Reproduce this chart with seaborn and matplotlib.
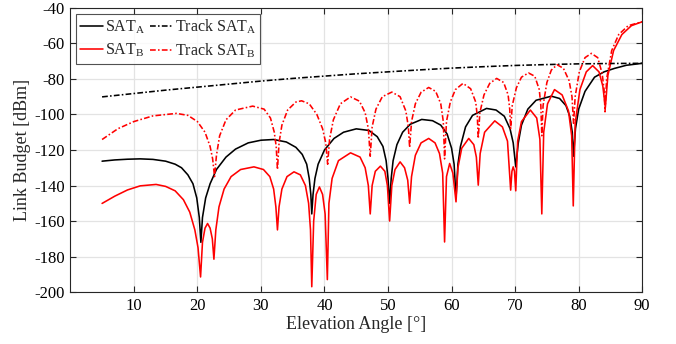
import matplotlib
matplotlib.use("Agg")
import matplotlib.pyplot as plt
import seaborn as sns
import pandas as pd

# Elevation angle [deg] and link budget [dBm] for each trace
sat_a_x = [5, 7, 9, 11, 13, 15, 16.5, 17.5, 18.5, 19.3, 19.9, 20.3, 20.55,
           20.8, 21.3, 22, 23, 24.5, 26, 28, 30, 32, 34, 35.5, 36.5, 37.2, 37.6, 37.85, 38.0,
           38.2, 38.5, 39, 40, 41.5, 43, 45, 47, 48.3, 49.2, 49.7, 50.0, 50.25,
           50.5, 50.8, 51.4, 52.3, 53.5, 55.3, 57, 58.3, 59.3, 60, 60.4, 60.7,
           61, 61.4, 62.2, 63.3, 65.5, 67, 68.3, 69.2, 69.7, 70.1,
           70.5, 71, 72, 73.3, 75.7, 77, 78, 78.6, 79.0, 79.2,
           79.5, 80, 81, 82.5, 84, 85.6, 87.5, 90]
sat_a_y = [-126.3, -125.6, -125.2, -125.0, -125.3, -126.3, -128, -130, -134, -139, -147, -158, -172,
           -158, -147, -139, -131, -124, -119.5, -116, -114.5, -114.1, -115.5, -118.5, -122.5, -128, -136, -145, -156,
           -145, -136, -128, -120, -113.5, -110, -108.1, -109, -112.5, -118, -126, -136, -150,
           -136, -126, -117, -110, -105.5, -102.8, -103.5, -106, -111, -119, -128, -147,
           -128, -118, -107, -100.5, -96.6, -97.5, -101, -108, -116, -129.5,
           -116, -106, -97, -92, -89.7, -91, -95, -101, -110, -123.5,
           -108, -97, -87, -79, -76, -74.1, -72.3, -71.2]

sat_b_x = [5, 7, 9, 11, 13.5, 15, 16.5, 17.8, 18.8, 19.6, 20.1, 20.5,
           20.8, 21.2, 21.6, 22.0, 22.35, 22.6,
           22.9, 23.4, 24.2, 25.3, 26.8, 28.9, 30.4, 31.4, 32.0, 32.35, 32.6,
           32.85, 33.3, 34.1, 35.2, 36.2, 37.0, 37.5, 37.8, 38.0,
           38.3, 38.7, 39.2, 39.7, 40.1, 40.45,
           40.7, 41.2, 42.2, 44.1, 45.6, 46.4, 46.9, 47.2,
           47.5, 48.0, 48.8, 49.5, 49.9, 50.25,
           50.6, 51.1, 51.9, 52.6, 53.1, 53.4,
           53.7, 54.3, 55.2, 56.4, 57.4, 58.1, 58.6, 58.9,
           59.2, 59.7, 60.2, 60.7,
           61.0, 61.6, 62.7, 63.5, 63.9, 64.2,
           64.5, 65.2, 66.8, 68.0, 68.8, 69.3,
           69.5, 69.7, 69.9, 70.1,
           70.4, 71.0, 72.4, 73.4, 73.9, 74.2,
           74.5, 75.1, 76.2, 77.4, 78.4, 78.9, 79.15,
           79.45, 80.2, 81.2, 82.2, 83.2, 83.8, 84.2,
           84.6, 85.5, 86.8, 88.3, 90]
sat_b_y = [-150.1, -146, -142.5, -140.2, -139.4, -140.5, -143, -148, -155, -165, -175, -191.5,
           -172, -164, -161.4, -164, -170, -181.5,
           -165, -152, -142, -135, -131, -129.5, -131, -135, -142, -152, -165,
           -152, -142, -135, -132.3, -134, -140, -150, -165, -197,
           -160, -145, -140.8, -145, -156, -193,
           -150, -136, -126, -121.6, -124, -130, -140, -156,
           -140, -132, -129.1, -132, -140, -160,
           -140, -131, -126.7, -130, -137, -150,
           -135, -123, -116, -113.5, -116, -122, -133, -171.8,
           -135, -127.6, -133, -149.2,
           -130, -119, -113.5, -117, -124, -139.8,
           -122, -110, -103.6, -107, -115, -142.6,
           -132, -129.5, -132, -143,
           -115, -104, -97.5, -102, -114, -156,
           -110, -94, -86, -89, -98, -112, -151.5,
           -105, -86, -76, -72.5, -76, -84, -96,
           -78, -64, -55, -50, -47.8]

track_a_x = [5, 10, 15, 20, 25, 30, 35, 40, 45, 50, 55, 60, 65, 70, 75, 80, 85, 90]
track_a_y = [-90.1, -88.2, -86.3, -84.6, -82.9, -81.2, -79.7, -78.4, -77.1, -76.0,
             -74.9, -73.9, -73.1, -72.4, -71.9, -71.5, -71.3, -71.2]

track_b_x = [5, 7.5, 10, 13, 16.7, 18.5, 20, 21.2, 22, 22.4, 22.7,
             23.0, 23.5, 24.5, 26, 28.7, 30.5, 31.5, 32.1, 32.4, 32.6,
             32.85, 33.3, 34.2, 35.5, 36.4, 37.6, 38.8, 39.7, 40.2, 40.5,
             40.8, 41.4, 42.5, 44.1, 45.5, 46.4, 46.9, 47.2,
             47.5, 48.1, 49.1, 50.6, 51.9, 52.8, 53.2, 53.4,
             53.7, 54.3, 55.2, 56.4, 57.5, 58.3, 58.7, 58.9,
             59.2, 59.8, 60.6, 61.8, 63.0, 63.8, 64.05, 64.2,
             64.45, 65.1, 66.0, 67.1, 68.2, 68.9, 69.15, 69.3,
             69.55, 70.2, 71.0, 72.1, 73.1, 73.8, 74.05, 74.2,
             74.4, 75.0, 75.7, 76.6, 77.6, 78.5, 78.95, 79.2,
             79.45, 80.1, 81.0, 82.0, 83.0, 83.7, 84.0, 84.15,
             84.4, 85.2, 86.3, 87.8, 90]
track_b_y = [-114.1, -108, -104, -100.8, -99.4, -100.5, -104, -110, -118, -125, -135,
             -123, -112, -103, -97.5, -95.3, -97, -102, -110, -118, -131,
             -116, -106, -97.5, -93, -92.3, -94, -100, -108, -116, -128,
             -114, -103, -94, -90.1, -92.5, -99, -108, -123.5,
             -107, -97, -90, -87.4, -90, -98, -107, -118.6,
             -104, -94, -87.5, -84.8, -87, -94, -104, -125,
             -104, -93, -86, -82.5, -85.5, -93, -101, -113.5,
             -99, -89, -82.5, -79.7, -82, -89, -97, -108,
             -95, -85, -79, -76.6, -78.5, -86, -95, -112,
             -95, -82, -75, -72, -74, -81, -90, -105,
             -90, -76, -68, -65.6, -68, -77, -86, -98.5,
             -80, -64, -55, -50, -47.8]

x_ticks = [10, 20, 30, 40, 50, 60, 70, 80, 90]
y_ticks = [-200, -180, -160, -140, -120, -100, -80, -60, -40]

sns.set_theme(style="white")
plt.rcParams["font.family"] = ["Liberation Serif", "DejaVu Serif"]
plt.rcParams["mathtext.fontset"] = "custom"
plt.rcParams["mathtext.rm"] = "Liberation Serif"
plt.rcParams["mathtext.it"] = "Liberation Serif:italic"

fig = plt.figure(figsize=(6.76, 3.44), dpi=100)
ax = fig.add_axes([0.104, 0.151, 0.846, 0.826])

dashdot = (0, (3.6, 1.4, 1.0, 1.4))
traces = [
    (sat_a_x, sat_a_y, r"SAT$_\mathrm{A}$", "black", "-"),
    (sat_b_x, sat_b_y, r"SAT$_\mathrm{B}$", "red", "-"),
    (track_a_x, track_a_y, r"Track SAT$_\mathrm{A}$", "black", dashdot),
    (track_b_x, track_b_y, r"Track SAT$_\mathrm{B}$", "red", dashdot),
]
for xs, ys, name, col, ls in traces:
    df = pd.DataFrame({"angle": xs, "budget": ys})
    sns.lineplot(data=df, x="angle", y="budget", ax=ax, color=col,
                 linestyle=ls, linewidth=1.15, sort=False, estimator=None,
                 label=name)

ax.set_xlim(0, 90)
ax.set_ylim(-200, -40)
ax.set_xticks(x_ticks)
ax.set_yticks(y_ticks)
ax.set_xticklabels([str(t) for t in x_ticks])
ax.set_yticklabels([str(t) for t in y_ticks])
ax.grid(True, color="#e3e3e3", linewidth=0.9)
ax.set_axisbelow(True)
for sp in ax.spines.values():
    sp.set_color("#262626")
    sp.set_linewidth(0.8)
ax.tick_params(axis="both", direction="in", length=4, width=0.8,
               colors="#262626", labelcolor="black", labelsize=12,
               top=True, right=True, bottom=True, left=True, pad=4)
ax.set_xlabel("Elevation Angle [\u00b0]", fontsize=13, labelpad=2)
ax.set_ylabel("Link Budget [dBm]", fontsize=13, labelpad=2)

handles, labels = ax.get_legend_handles_labels()
leg = ax.legend(handles, labels, loc="upper left", ncol=2, fontsize=11.5,
                frameon=True, fancybox=False, edgecolor="#262626",
                borderaxespad=0.35, handlelength=1.45, handletextpad=0.1,
                columnspacing=0.3, labelspacing=0.35, borderpad=0.25)
leg.get_frame().set_linewidth(0.8)

fig.savefig("out.png", dpi=100)
